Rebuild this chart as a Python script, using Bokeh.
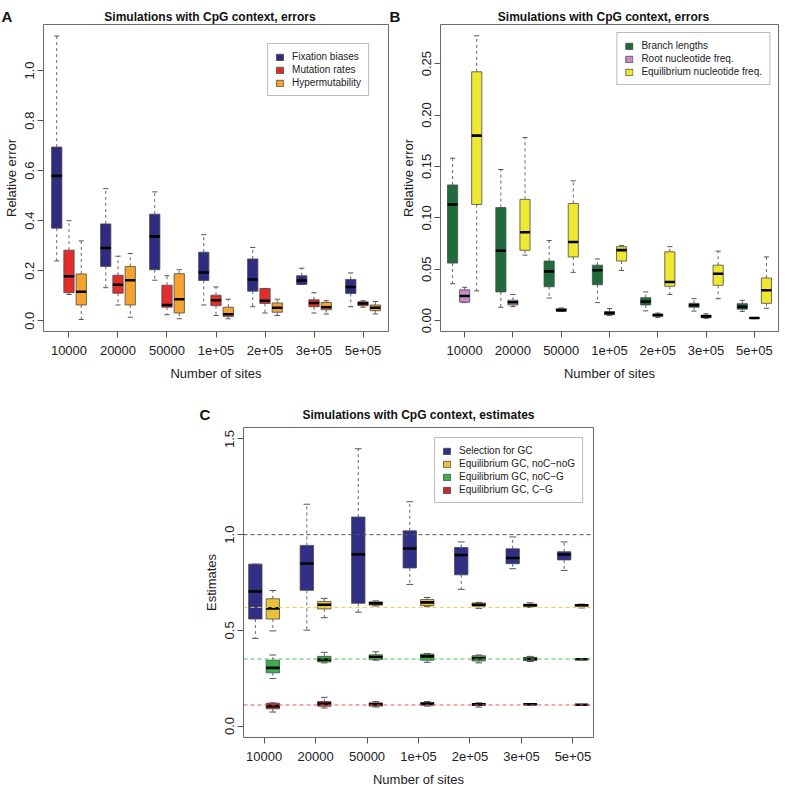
import numpy as np
from bokeh.plotting import figure
from bokeh.models import FixedTicker, Legend, LegendItem, Span, Spacer
from bokeh.core.properties import value
from bokeh.layouts import column, row
from bokeh.embed import file_html
from bokeh.resources import INLINE

FONT = "Liberation Sans"

sites = ["10000", "20000", "50000", "1e+05", "2e+05", "3e+05", "5e+05"]

# ---------------- Panel A : errors ----------------
fix_lo = [0.239, 0.132, 0.162, 0.063, 0.056, 0.145, 0.056]
fix_q1 = [0.370, 0.217, 0.204, 0.161, 0.118, 0.145, 0.109]
fix_med = [0.579, 0.291, 0.337, 0.193, 0.165, 0.161, 0.135]
fix_q3 = [0.694, 0.387, 0.426, 0.274, 0.247, 0.180, 0.165]
fix_hi = [1.138, 0.528, 0.515, 0.344, 0.293, 0.210, 0.191]

mut_lo = [0.105, 0.063, 0.024, 0.021, 0.031, 0.031, 0.054]
mut_q1 = [0.112, 0.110, 0.054, 0.060, 0.069, 0.056, 0.060]
mut_med = [0.178, 0.144, 0.063, 0.082, 0.080, 0.071, 0.069]
mut_q3 = [0.282, 0.182, 0.142, 0.102, 0.129, 0.084, 0.076]
mut_hi = [0.400, 0.258, 0.180, 0.135, 0.129, 0.112, 0.080]

hyp_lo = [0.005, 0.014, 0.008, 0.008, 0.021, 0.027, 0.027]
hyp_q1 = [0.063, 0.063, 0.031, 0.017, 0.034, 0.044, 0.040]
hyp_med = [0.116, 0.162, 0.086, 0.026, 0.052, 0.054, 0.052]
hyp_q3 = [0.187, 0.217, 0.188, 0.054, 0.071, 0.073, 0.063]
hyp_hi = [0.319, 0.269, 0.204, 0.086, 0.086, 0.080, 0.077]

# ---------------- Panel B : errors ----------------
br_lo = [0.036, 0.013, 0.022, 0.0176, 0.0096, 0.0093, 0.0090]
br_q1 = [0.056, 0.028, 0.033, 0.035, 0.0153, 0.0131, 0.0112]
br_med = [0.113, 0.068, 0.048, 0.049, 0.0185, 0.0150, 0.0134]
br_q3 = [0.132, 0.110, 0.058, 0.054, 0.0224, 0.0169, 0.0166]
br_hi = [0.158, 0.147, 0.078, 0.060, 0.0280, 0.0214, 0.0198]

root_lo = [0.0176, 0.0137, 0.0090, 0.0050, 0.0032, 0.0023, 0.0020]
root_q1 = [0.0180, 0.0153, 0.0092, 0.0058, 0.0045, 0.0029, 0.0022]
root_med = [0.0240, 0.0180, 0.0102, 0.0074, 0.0054, 0.0042, 0.0026]
root_q3 = [0.0300, 0.0200, 0.0118, 0.0090, 0.0064, 0.0054, 0.0029]
root_hi = [0.0325, 0.0255, 0.0124, 0.0118, 0.0074, 0.0067, 0.0031]

eqn_lo = [0.029, 0.0638, 0.047, 0.0488, 0.0255, 0.0214, 0.0121]
eqn_q1 = [0.113, 0.0685, 0.062, 0.058, 0.0335, 0.0344, 0.0169]
eqn_med = [0.180, 0.086, 0.0765, 0.0686, 0.0377, 0.0456, 0.0296]
eqn_q3 = [0.242, 0.118, 0.114, 0.072, 0.067, 0.054, 0.0415]
eqn_hi = [0.277, 0.178, 0.136, 0.073, 0.072, 0.0676, 0.062]

# ---------------- Panel C : estimates ----------------
sel_lo = [0.458, 0.501, 0.595, 0.740, 0.714, 0.822, 0.813]
sel_q1 = [0.559, 0.709, 0.641, 0.826, 0.790, 0.848, 0.868]
sel_med = [0.703, 0.849, 0.897, 0.928, 0.894, 0.878, 0.896]
sel_q3 = [0.846, 0.944, 1.092, 1.020, 0.933, 0.926, 0.911]
sel_hi = [0.846, 1.159, 1.449, 1.172, 0.962, 0.988, 0.962]

nn_lo = [0.497, 0.566, 0.627, 0.624, 0.615, 0.620, 0.617]
nn_q1 = [0.559, 0.612, 0.632, 0.629, 0.626, 0.624, 0.626]
nn_med = [0.615, 0.634, 0.641, 0.646, 0.634, 0.631, 0.631]
nn_q3 = [0.665, 0.651, 0.649, 0.661, 0.643, 0.637, 0.634]
nn_hi = [0.708, 0.667, 0.654, 0.672, 0.646, 0.644, 0.637]

ng_lo = [0.248, 0.330, 0.344, 0.333, 0.330, 0.337, 0.346]
ng_q1 = [0.278, 0.335, 0.347, 0.344, 0.340, 0.342, 0.348]
ng_med = [0.304, 0.347, 0.361, 0.364, 0.354, 0.350, 0.349]
ng_q3 = [0.344, 0.364, 0.372, 0.376, 0.367, 0.359, 0.350]
ng_hi = [0.371, 0.385, 0.388, 0.379, 0.371, 0.364, 0.352]

cg_lo = [0.073, 0.094, 0.099, 0.104, 0.099, 0.109, 0.109]
cg_q1 = [0.090, 0.103, 0.104, 0.108, 0.108, 0.111, 0.110]
cg_med = [0.104, 0.116, 0.114, 0.116, 0.113, 0.114, 0.111]
cg_q3 = [0.119, 0.128, 0.121, 0.123, 0.118, 0.116, 0.112]
cg_hi = [0.121, 0.150, 0.128, 0.128, 0.121, 0.118, 0.113]

ref_values = [1.0, 0.62, 0.35, 0.11]
ref_colors = ["#50507a", "#e6cf45", "#4cb85c", "#e05a5a"]

title_AB = "Simulations with CpG context, errors"
title_C = "Simulations with CpG context, estimates"

# layout geometry (pixels)
A_left, A_fw, A_right = 37, 345, 6
B_left, B_fw, B_right = 46, 338, 2
C_left, C_fw, C_right = 44, 350, 4
AB_fh, C_fh = 307, 310
C_spacer = 199


def styled_fig(fw, fh, bl, br, bt, xr, yr, ylabel, yticks, fmt):
    p = figure(frame_width=fw, frame_height=fh, x_range=xr, y_range=yr, title=None,
               output_backend="svg", toolbar_location=None,
               min_border_left=bl, min_border_right=br,
               min_border_top=bt, min_border_bottom=0)
    p.grid.visible = False
    p.outline_line_color = "#6a6a6a"
    p.outline_line_width = 1
    for ax in (p.xaxis[0], p.yaxis[0]):
        ax.axis_line_color = None
        ax.major_tick_line_color = "#555555"
        ax.major_tick_out = 6
        ax.major_tick_in = 0
        ax.minor_tick_line_color = None
        ax.major_label_text_font = FONT
        ax.major_label_text_font_size = "13px"
        ax.major_label_text_color = "#222222"
        ax.axis_label_text_font = FONT
        ax.axis_label_text_font_size = "13px"
        ax.axis_label_text_font_style = "normal"
        ax.axis_label_text_color = "#222222"
    p.xaxis.ticker = FixedTicker(ticks=list(range(1, len(sites) + 1)))
    p.xaxis.major_label_overrides = {i + 1: s for i, s in enumerate(sites)}
    p.xaxis.axis_label = "Number of sites"
    p.xaxis.major_label_standoff = 8
    p.xaxis.axis_label_standoff = 8
    p.yaxis.ticker = FixedTicker(ticks=yticks)
    p.yaxis.major_label_overrides = {t: fmt % t for t in yticks}
    p.yaxis.major_label_orientation = "vertical"
    p.yaxis.axis_label = ylabel
    p.yaxis.major_label_standoff = 3
    p.yaxis.axis_label_standoff = 4
    return p


def boxplot(p, offset, width, lo, q1, med, q3, hi, color):
    x = np.arange(1, len(med) + 1) + offset
    dash = dict(line_color="#666666", line_dash="3 3", line_width=1)
    p.segment(x0=x, y0=q3, x1=x, y1=hi, **dash)
    p.segment(x0=x, y0=q1, x1=x, y1=lo, **dash)
    cap = dict(line_color="#555555", line_width=1)
    p.segment(x0=x - width / 4, y0=hi, x1=x + width / 4, y1=hi, **cap)
    p.segment(x0=x - width / 4, y0=lo, x1=x + width / 4, y1=lo, **cap)
    r = p.vbar(x=x, width=width, top=q3, bottom=q1, fill_color=color,
               line_color="#4a4a4a", line_width=0.8)
    p.segment(x0=x - width / 2, y0=med, x1=x + width / 2, y1=med,
              line_color="black", line_width=2.6)
    return r


def add_legend(p, entries, margin):
    leg = Legend(items=[LegendItem(label=l, renderers=[r]) for l, r in entries],
                 location="top_right")
    leg.label_text_font = FONT
    leg.label_text_font_size = "10px"
    leg.label_text_color = "#222222"
    leg.glyph_width = 9
    leg.glyph_height = 8
    leg.label_height = 10
    leg.label_standoff = 8
    leg.spacing = 2
    leg.padding = 7
    leg.margin = margin
    leg.border_line_color = "#777777"
    leg.border_line_width = 1
    leg.background_fill_alpha = 1
    p.add_layout(leg)


def text_strip(width, height, letters, letter_x, titles, title_x, base):
    s = figure(width=width, height=height, x_range=(0, width), y_range=(0, height),
               x_axis_type=None, y_axis_type=None, output_backend="svg", title=None,
               toolbar_location=None, min_border=0)
    s.grid.visible = False
    s.outline_line_color = None
    s.text(x=letter_x, y=[base] * len(letters), text=letters,
           text_font=value(FONT), text_font_size="15px", text_font_style="bold",
           text_color="#111111", text_align="left", text_baseline="alphabetic")
    s.text(x=title_x, y=[base] * len(titles), text=titles,
           text_font=value(FONT), text_font_size="12px", text_font_style="bold",
           text_color="#111111", text_align="center", text_baseline="alphabetic")
    return s


# Panel A
pA = styled_fig(A_fw, AB_fh, A_left, A_right, 0, (0.48, 7.52), (-0.043, 1.184),
                "Relative error", [0.0, 0.2, 0.4, 0.6, 0.8, 1.0], "%.1f")
rA1 = boxplot(pA, -0.25, 0.21, fix_lo, fix_q1, fix_med, fix_q3, fix_hi, "#2e2b80")
rA2 = boxplot(pA, 0.0, 0.21, mut_lo, mut_q1, mut_med, mut_q3, mut_hi, "#e32d2d")
rA3 = boxplot(pA, 0.25, 0.21, hyp_lo, hyp_q1, hyp_med, hyp_q3, hyp_hi, "#f5a22f")
add_legend(pA, [("Fixation biases", rA1), ("Mutation rates", rA2), ("Hypermutability", rA3)], 19)

# Panel B
pB = styled_fig(B_fw, AB_fh, B_left, B_right, 0, (0.5, 7.5), (-0.0105, 0.288),
                "Relative error", [0.0, 0.05, 0.10, 0.15, 0.20, 0.25], "%.2f")
rB1 = boxplot(pB, -0.25, 0.21, br_lo, br_q1, br_med, br_q3, br_hi, "#1f6b3b")
rB2 = boxplot(pB, 0.0, 0.21, root_lo, root_q1, root_med, root_q3, root_hi, "#c98bc5")
rB3 = boxplot(pB, 0.25, 0.21, eqn_lo, eqn_q1, eqn_med, eqn_q3, eqn_hi, "#eee830")
add_legend(pB, [("Branch lengths", rB1), ("Root nucleotide freq.", rB2),
                ("Equilibrium nucleotide freq.", rB3)], 8)

# Panel C
pC = styled_fig(C_fw, C_fh, C_left, C_right, 4, (0.6, 7.4), (-0.06, 1.56),
                "Estimates", [0.0, 0.5, 1.0, 1.5], "%.1f")
rC1 = boxplot(pC, -0.17, 0.26, sel_lo, sel_q1, sel_med, sel_q3, sel_hi, "#302e85")
rC2 = boxplot(pC, 0.17, 0.26, nn_lo, nn_q1, nn_med, nn_q3, nn_hi, "#eac23a")
rC3 = boxplot(pC, 0.17, 0.26, ng_lo, ng_q1, ng_med, ng_q3, ng_hi, "#3caf4a")
rC4 = boxplot(pC, 0.17, 0.26, cg_lo, cg_q1, cg_med, cg_q3, cg_hi, "#c5282e")
for v, c in zip(ref_values, ref_colors):
    pC.add_layout(Span(location=v, dimension="width", line_color=c,
                       line_dash="4 3", line_width=1))
add_legend(pC, [("Selection for GC", rC1), ("Equilibrium GC, noC\u2212noG", rC2),
                ("Equilibrium GC, noC\u2212G", rC3), ("Equilibrium GC, C\u2212G", rC4)], 10)

# title strips
wA = A_left + A_fw + A_right
wB = B_left + B_fw + B_right
top_strip = text_strip(wA + wB, 24, ["A", "B"], [1, wA + 1],
                       [title_AB, title_AB],
                       [A_left + A_fw / 2, wA + B_left + B_fw / 2], 8)
wC = C_left + C_fw + C_right
c_strip = text_strip(C_spacer + wC, 40, ["C"], [C_spacer],
                     [title_C], [C_spacer + C_left + C_fw / 2], 9)

layout = column(top_strip, row(pA, pB), c_strip,
                row(Spacer(width=C_spacer, height=10), pC))

open("out.html", "w").write(file_html(layout, INLINE))
